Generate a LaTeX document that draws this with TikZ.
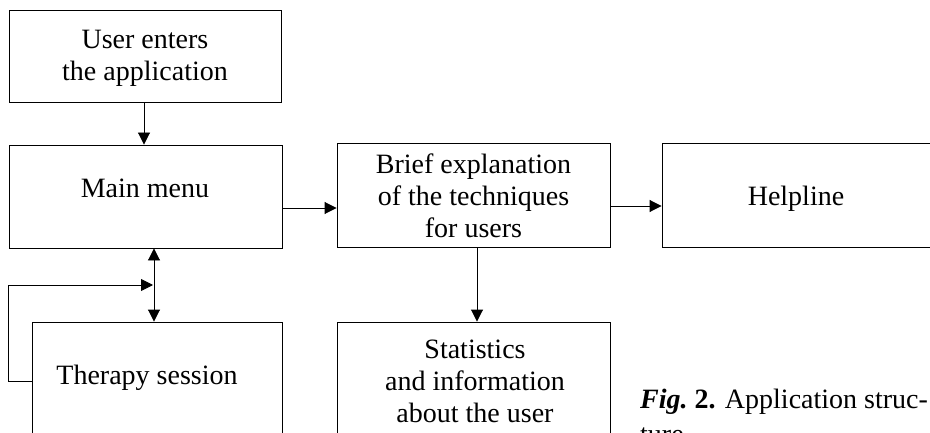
\documentclass[tikz,border=0pt]{standalone}
\usepackage{fontspec}
\setmainfont{Liberation Serif}
\usetikzlibrary{arrows.meta}
\tikzset{
  box/.style={draw, line width=0.9pt, rectangle, inner sep=0pt},
  txt/.style={align=center, font=\fontsize{28}{32}\selectfont, inner sep=0pt},
  captxt/.style={align=left, font=\fontsize{28}{35}\selectfont, inner sep=0pt},
  arr/.style={line width=0.9pt, -{Triangle[length=12pt,width=12pt]}},
  darr/.style={line width=0.9pt, {Triangle[length=12pt,width=12pt]}-{Triangle[length=12pt,width=12pt]}},
}
\begin{document}
\begin{tikzpicture}[x=1pt,y=-1pt]
\useasboundingbox (0,0) rectangle (930,433);
\clip (0,0) rectangle (930,433);
% boxes
\node[box, minimum width=272pt, minimum height=92pt] (user) at (145,56) {};
\node[box, minimum width=273pt, minimum height=103pt] (menu) at (145.5,196.5) {};
\node[box, minimum width=273pt, minimum height=104pt] (brief) at (473.5,195) {};
\node[box, minimum width=290pt, minimum height=104pt] (help) at (807,195) {};
\node[box, minimum width=250pt, minimum height=140pt] (therapy) at (157,392) {};
\node[box, minimum width=273pt, minimum height=140pt] (stats) at (473.5,392) {};
% texts
\node[txt] (usert) at (145,58) {User enters\\the application};
\node[txt] (menut) at (145,188) {Main menu};
\node[txt] (brieft) at (473.5,196) {Brief explanation\\of the techniques\\for users};
\node[txt] (helpt) at (796,199) {Helpline};
\node[txt] (therapyt) at (147,378) {Therapy session};
\node[txt] (statst) at (475,381) {Statistics\\and information\\about the user};
\node[captxt, anchor=base west] (cap) at (640,443) {\textbf{\textit{Fig.}\ 2.} Application struc-\\ture};
% connectors
\draw[arr] (user.south -| 144,0) -- (menu.north -| 144,0);
\draw[arr] (menu.east |- 0,208) -- (brief.west |- 0,208);
\draw[arr] (brief.east |- 0,206) -- (help.west |- 0,206);
\draw[arr] (brief.south -| 477,0) -- (stats.north -| 477,0);
\draw[darr] (menu.south -| 154,0) -- (therapy.north -| 154,0);
\coordinate (loopend) at (153,285);
\draw[arr] (therapy.west |- 0,381) -- (8,381) -- (8,285) -- (loopend);
\end{tikzpicture}
\end{document}
